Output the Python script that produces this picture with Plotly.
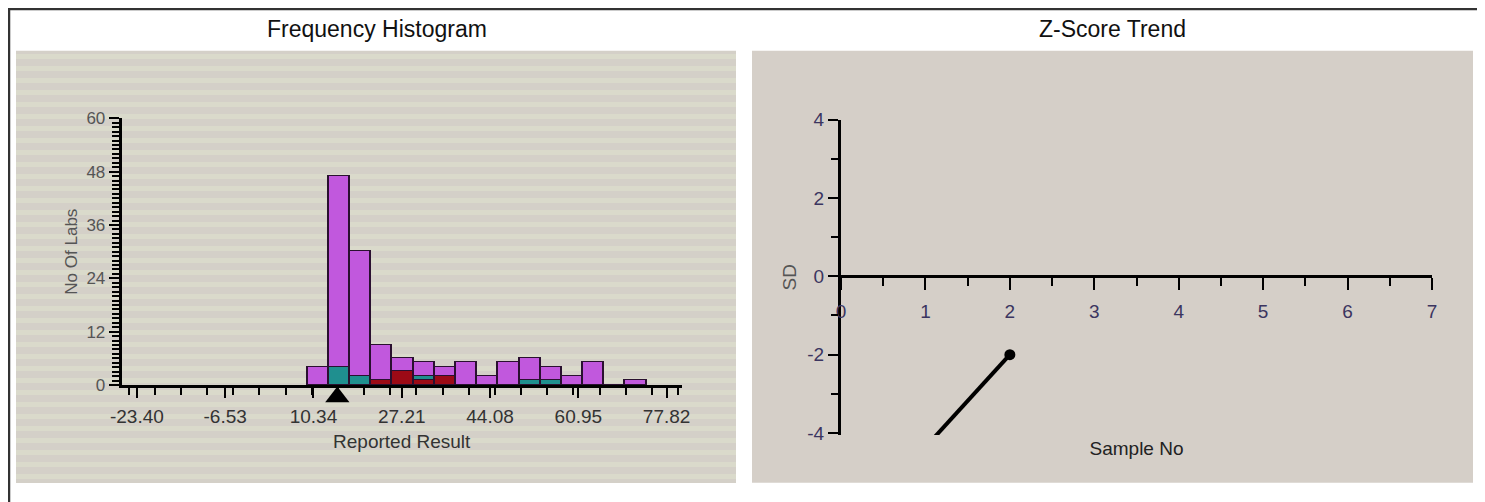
import plotly.graph_objects as go

# ---------------- data ----------------
bin_starts = [9.15, 13.20, 17.25, 21.30, 25.35, 29.40, 33.45, 37.50,
              41.55, 45.60, 49.65, 53.70, 57.75, 61.80, 65.85, 69.90]
bin_width = 4.05
total_counts = [4, 47, 30, 9, 6, 5, 4, 5, 2, 5, 6, 4, 2, 5, 0, 1]
teal_counts = [0, 4, 2, 0, 0, 1, 0, 0, 0, 0, 1, 1, 0, 0, 0, 0]
red_counts = [0, 0, 0, 1, 3, 1, 2, 0, 0, 0, 0, 0, 0, 0, 0, 0]
purple_counts = [t - a - b for t, a, b in zip(total_counts, teal_counts, red_counts)]

hist_x_tick_vals = [-23.40, -6.53, 10.34, 27.21, 44.08, 60.95, 77.82]
hist_x_tick_text = ["-23.40", "-6.53", "10.34", "27.21", "44.08", "60.95", "77.82"]
hist_y_tick_vals = [0, 12, 24, 36, 48, 60]
lab_result = 14.9

sample_no = [1, 2]
z_scores = [-4.36, -2.0]
z_x_tick_vals = [0, 1, 2, 3, 4, 5, 6, 7]
z_y_tick_vals = [-4, -2, 0, 2, 4]
z_y_tick_text = ["-4", "-2", "0", "2", "4"]

# ---------------- geometry helpers ----------------
# the page body has an 8px margin, so the figure is drawn 8px in from the window corner
OFF = 8
W, H = 1485 - OFF, 502 - OFF
def fx(px):
    return (px - OFF) / W
def fy(py):
    return 1 - (py - OFF) / H

FONT = "Arial, Liberation Sans, sans-serif"
PURPLE = "#c158dd"
TEAL = "#1f8f8f"
RED = "#9c0a16"
EDGE = "#2a1030"
TICKNUM = "#3b3560"

hist_xrange = [-26.3, 80.7]
hist_yrange = [0, 60]
z_xrange = [0, 7]
z_yrange = [-4.05, 4]

y1_dom = [fy(385), fy(118.3)]
y2_dom = [fy(435), fy(119.5)]
zero_pos = y2_dom[0] + (0 - z_yrange[0]) / (z_yrange[1] - z_yrange[0]) * (y2_dom[1] - y2_dom[0])

fig = go.Figure()

for vals, col in [(red_counts, RED), (teal_counts, TEAL), (purple_counts, PURPLE)]:
    fig.add_trace(go.Bar(
        x=bin_starts, y=vals, width=bin_width, offset=0,
        marker=dict(color=col, line=dict(color=EDGE, width=1.5)),
        xaxis="x", yaxis="y", showlegend=False, hoverinfo="skip"))

# marker for the lab's own result, drawn in a thin strip just below the axis
fig.add_trace(go.Scatter(
    x=[lab_result], y=[0.43], mode="markers",
    marker=dict(symbol="triangle-up", size=21, color="black"),
    xaxis="x", yaxis="y3", showlegend=False, hoverinfo="skip"))

fig.add_trace(go.Scatter(
    x=sample_no, y=z_scores, mode="lines+markers",
    line=dict(color="black", width=4),
    marker=dict(color="black", size=11),
    xaxis="x2", yaxis="y2", showlegend=False))

shapes = []
# outer frame
shapes.append(dict(type="rect", xref="paper", yref="paper",
                   x0=fx(9), x1=fx(1480), y0=fy(540), y1=fy(9),
                   line=dict(color="#333333", width=2.5), fillcolor="rgba(0,0,0,0)", layer="below"))
# left panel striped background
shapes.append(dict(type="rect", xref="paper", yref="paper",
                   x0=fx(16), x1=fx(736), y0=fy(483), y1=fy(50.7),
                   line=dict(width=0), fillcolor="#d4d0c8", layer="below"))
py = 54.0
while py < 480:
    shapes.append(dict(type="rect", xref="paper", yref="paper",
                       x0=fx(16), x1=fx(736), y0=fy(py + 5), y1=fy(py),
                       line=dict(width=0), fillcolor="#dadacb", layer="below"))
    py += 12
# right panel background
shapes.append(dict(type="rect", xref="paper", yref="paper",
                   x0=fx(752), x1=fx(1473), y0=fy(482.7), y1=fy(50.7),
                   line=dict(width=0), fillcolor="#d5cfc8", layer="below"))

annotations = [
    dict(text="Frequency Histogram", x=fx(376.5), y=fy(29), xref="paper", yref="paper",
         showarrow=False, xanchor="center", yanchor="middle",
         font=dict(family=FONT, size=23, color="#111111")),
    dict(text="Z-Score Trend", x=fx(1112), y=fy(29), xref="paper", yref="paper",
         showarrow=False, xanchor="center", yanchor="middle",
         font=dict(family=FONT, size=23, color="#111111")),
]

fig.update_layout(
    width=W, height=H,
    margin=dict(l=0, r=0, t=0, b=0),
    paper_bgcolor="white", plot_bgcolor="rgba(0,0,0,0)",
    barmode="stack", bargap=0,
    font=dict(family=FONT),
    shapes=shapes, annotations=annotations,
    xaxis=dict(
        domain=[fx(121.7), fx(681.7)], range=hist_xrange, anchor="y", automargin=False,
        tickmode="array", tickvals=hist_x_tick_vals, ticktext=hist_x_tick_text,
        ticks="outside", ticklen=10, tickwidth=2, tickcolor="black",
        showline=True, linewidth=3, linecolor="black",
        showgrid=False, zeroline=False,
        tickfont=dict(size=19, color="#333333"), ticklabelstandoff=2,
        minor=dict(tickmode="linear", tick0=0, dtick=5, ticks="outside",
                   ticklen=7, tickwidth=2, tickcolor="black", showgrid=False),
        title=dict(text="Reported Result", font=dict(size=19, color="#333333"), standoff=9),
    ),
    yaxis=dict(
        domain=y1_dom, range=hist_yrange, anchor="x", automargin=False,
        tickmode="array", tickvals=hist_y_tick_vals,
        ticks="outside", ticklen=10, tickwidth=2, tickcolor="black",
        showline=True, linewidth=3, linecolor="black",
        showgrid=False, zeroline=False,
        tickfont=dict(size=17, color="#555555"),
        minor=dict(tickmode="linear", tick0=0, dtick=1, ticks="outside",
                   ticklen=7, tickwidth=2, tickcolor="black", showgrid=False),
        title=dict(text="No Of Labs", font=dict(size=17, color="#555555"), standoff=5),
    ),
    yaxis3=dict(
        domain=[fy(410), fy(380)], range=[0, 1], anchor="x", automargin=False,
        showline=False, ticks="", showticklabels=False,
        showgrid=False, zeroline=False, fixedrange=True,
    ),
    xaxis2=dict(
        domain=[fx(841), fx(1432)], range=z_xrange, anchor="free", position=zero_pos,
        automargin=False, side="bottom",
        tickmode="array", tickvals=z_x_tick_vals,
        ticks="outside", ticklen=12, tickwidth=2, tickcolor="black",
        showline=True, linewidth=3, linecolor="black",
        showgrid=False, zeroline=False,
        tickfont=dict(size=19, color=TICKNUM), ticklabelstandoff=5,
        minor=dict(tickmode="linear", tick0=0, dtick=0.5, ticks="outside",
                   ticklen=8, tickwidth=2, tickcolor="black", showgrid=False),
        title=dict(text="Sample No", font=dict(size=19, color="#222222"), standoff=120),
    ),
    yaxis2=dict(
        domain=y2_dom, range=z_yrange, anchor="x2", automargin=False,
        tickmode="array", tickvals=z_y_tick_vals, ticktext=z_y_tick_text,
        ticks="outside", ticklen=10, tickwidth=2, tickcolor="black",
        showline=True, linewidth=3, linecolor="black",
        showgrid=False, zeroline=False,
        tickfont=dict(size=19, color=TICKNUM),
        minor=dict(tickmode="linear", tick0=0, dtick=1, ticks="outside",
                   ticklen=7, tickwidth=2, tickcolor="black", showgrid=False),
        title=dict(text="SD", font=dict(size=19, color="#555555"), standoff=6),
    ),
)

fig.write_html("out.html")
